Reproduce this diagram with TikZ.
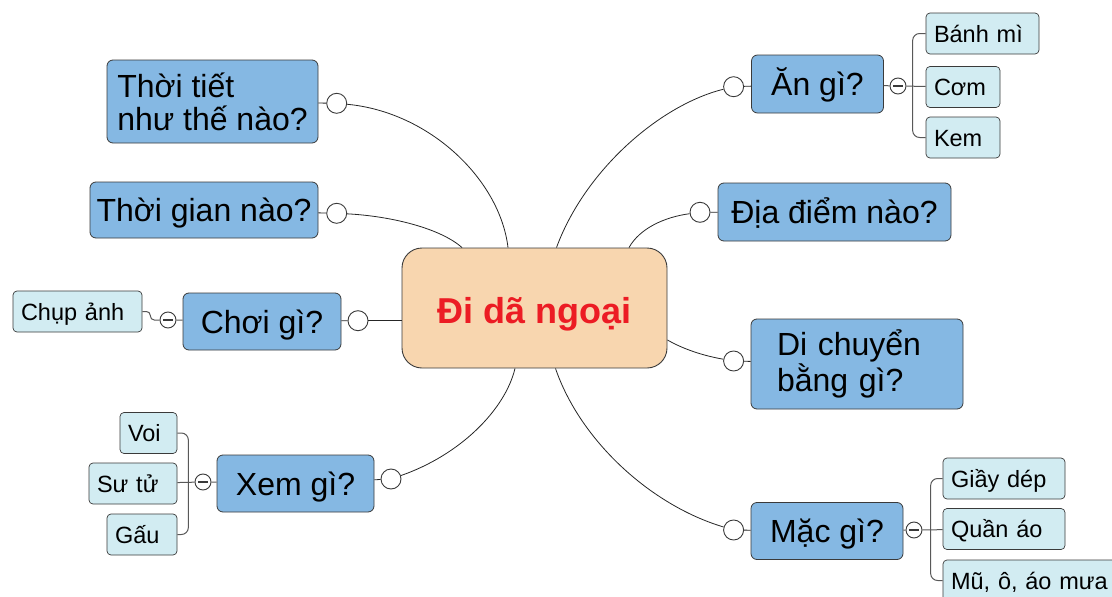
\documentclass[tikz,border=0pt]{standalone}
\usepackage{fontspec}
\setmainfont{Liberation Sans}
\definecolor{topicblue}{HTML}{85B8E3}
\definecolor{leafcyan}{HTML}{D2ECF2}
\definecolor{rootpeach}{HTML}{F8D6AF}
\definecolor{rootred}{HTML}{EC1C24}
\definecolor{edgegray}{HTML}{3A3A3A}

\begin{document}
\begin{tikzpicture}
  [x=1pt,y=-1pt,
   root/.style={draw=edgegray,fill=rootpeach,rounded corners=20pt,line width=0.9pt,
     minimum width=265pt,minimum height=120pt,text=rootred,
     font=\fontsize{36}{40}\selectfont\bfseries,text height=30pt,text depth=0pt},
   topic/.style={draw=edgegray,fill=topicblue,rounded corners=6pt,line width=0.8pt,
     font=\fontsize{32}{33}\selectfont,inner sep=0pt},
   oneline/.style={text height=23pt,text depth=0pt},
   leaf/.style={draw=edgegray,fill=leafcyan,rounded corners=4pt,line width=0.7pt,
     font=\fontsize{23.5}{26}\selectfont,align=left,inner xsep=8pt,inner ysep=0pt,
     minimum height=41pt,text height=17pt,text depth=0pt},
   knob/.style={circle,draw=edgegray,fill=white,line width=0.9pt,minimum size=20pt,inner sep=0pt},
   fold/.style={circle,draw=edgegray,fill=white,line width=0.9pt,minimum size=16pt,inner sep=0pt,
     path picture={\draw[line width=2pt] ([xshift=-5pt]path picture bounding box.center)
       -- ([xshift=5pt]path picture bounding box.center);}},
   link/.style={draw=black!85,line width=0.8pt},
   twig/.style={draw=edgegray!85,line width=1pt}]

  \path[use as bounding box,clip] (0,0) rectangle (1112,597);

  \node[root] (root) at (534.5,308) {Đi dã ngoại};

  % left side
  \node[topic,align=left,minimum width=211pt,minimum height=83pt] (weather) at (212.5,101.5) {Thời tiết\\như thế nào?};
  \node[topic,oneline,minimum width=228pt,minimum height=56pt] (when)  at (204,210)   {Thời gian nào?};
  \node[topic,oneline,minimum width=158pt,minimum height=57pt] (play)  at (262,321.5) {Chơi gì?};
  \node[topic,oneline,minimum width=157pt,minimum height=57pt] (watch) at (295.5,483.5) {Xem gì?};

  % right side
  \node[topic,oneline,minimum width=132pt,minimum height=58pt] (eat)   at (817.5,84)  {Ăn gì?};
  \node[topic,oneline,minimum width=233pt,minimum height=58pt] (place) at (834.5,212) {Địa điểm nào?};
  \node[topic,align=left,text width=160pt,minimum width=212pt,minimum height=90pt] (move) at (857,364) {Di chuyển\\bằng gì?};
  \node[topic,oneline,minimum width=152pt,minimum height=57pt] (wear)  at (827,531)  {Mặc gì?};

  \node[knob] (kweather) at (336.7,103.3) {};
  \node[knob] (kwhen)    at (336.7,213.3) {};
  \node[knob] (kplay)    at (358,320.7)   {};
  \node[knob] (kwatch)   at (391,479)     {};
  \node[knob] (keat)     at (733.6,86.7)  {};
  \node[knob] (kplace)   at (700,212.3)   {};
  \node[knob] (kmove)    at (733.6,361)   {};
  \node[knob] (kwear)    at (733.6,530)   {};

  \node[fold] (fplay)  at (168,320) {};
  \node[fold] (fwatch) at (203,482) {};
  \node[fold] (feat)   at (898,86)  {};
  \node[fold] (fwear)  at (914,530) {};

  % leaves
  \node[leaf,text width=97pt]  (banhmi)  at (982.5,33.5)  {Bánh mì};
  \node[leaf,text width=58pt]  (com)     at (963,87)      {Cơm};
  \node[leaf,text width=58pt]  (kem)     at (963,137.5)   {Kem};
  \node[leaf,text width=113pt] (chupanh) at (77.5,311.5)  {Chụp ảnh};
  \node[leaf,text width=41pt]  (voi)     at (148.5,433)   {Voi};
  \node[leaf,text width=72pt]  (sutu)    at (133,483.5)   {Sư tử};
  \node[leaf,text width=54pt]  (gau)     at (142,534.5)   {Gấu};
  \node[leaf,text width=106pt] (giaydep) at (1004,478.5)  {Giầy dép};
  \node[leaf,text width=106pt] (quanao)  at (1004,529)    {Quần áo};
  \node[leaf,text width=165pt] (mu)      at (1033.5,580.5) {Mũ, ô, áo mưa};

  \foreach \t in {weather,when,play,watch,eat,place,move,wear}
    \draw[link] (\t) -- (k\t);

  \draw[link] (kweather) .. controls (430,112) and (500,180) .. ([xshift=-26.5pt]root.north);
  \draw[link] (kwhen) .. controls (390,216) and (440,228) .. ([xshift=-72.5pt]root.north);
  \draw[link] (kplay) -- (kplay -| root.west);
  \draw[link] (kwatch) .. controls (460,455) and (505,410) .. ([xshift=-19.5pt]root.south);
  \draw[link] (keat) .. controls (660,105) and (585,170) .. ([xshift=22pt]root.north);
  \draw[link] (kplace) .. controls (665,217) and (640,228) .. ([xshift=94.5pt]root.north);
  \draw[link] (kmove) .. controls (705,356) and (685,350) .. ([yshift=-32pt]root.east);
  \draw[link] (kwear) .. controls (650,505) and (580,440) .. ([xshift=21pt]root.south);

  \foreach \from/\to in {eat/feat,feat/com,play/fplay,watch/fwatch,fwatch/sutu,wear/fwear,fwear/quanao}
    \draw[twig] (\from) -- (\to);

  \draw[twig,rounded corners=4pt] (chupanh.east) -- ++(8,0) |- (fplay);
  \draw[twig,rounded corners=7pt] (banhmi.west) -| ([xshift=-13pt]com.west) |- (kem.west);
  \draw[twig,rounded corners=7pt] (voi.east) -| ([xshift=11pt]sutu.east) |- (gau.east);
  \draw[twig,rounded corners=7pt] (giaydep.west) -| ([xshift=-12pt]quanao.west) |- (mu.west);

\end{tikzpicture}
\end{document}
